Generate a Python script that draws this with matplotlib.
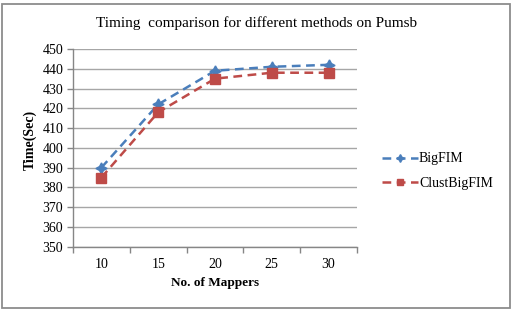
import matplotlib
matplotlib.use("Agg")
import matplotlib.pyplot as plt
from matplotlib.patches import Rectangle

categories = ["10", "15", "20", "25", "30"]
bigfim = [390, 422, 439, 441, 442]
clustbigfim = [385, 418, 435, 438, 438]
yticks = list(range(350, 451, 10))

plt.rcParams['font.family'] = ['Liberation Serif', 'DejaVu Serif']

W, H = 516, 309
fig = plt.figure(figsize=(W/100, H/100), dpi=100)
fig.patch.set_facecolor('white')

# outer frame
fig.add_artist(Rectangle((1.5/W, 1.5/H), 508.5/W, 304/H, transform=fig.transFigure,
                         fill=False, edgecolor='#8c8c8c', linewidth=1.3))

ax = fig.add_axes([73/W, 62.3/H, 284/W, 197.7/H])
x = list(range(len(categories)))
ax.plot(x, bigfim, color='#4a7ebb', linestyle=(0, (3.5, 2.2)), linewidth=1.8,
        marker=(4, 1, 0), markersize=8, markerfacecolor='#4a7ebb', markeredgecolor='#4a7ebb',
        label='BigFIM')
ax.plot(x, clustbigfim, color='#be4b48', linestyle=(0, (3.5, 2.2)), linewidth=1.8,
        marker='s', markersize=6.5, markerfacecolor='#be4b48', markeredgecolor='#be4b48',
        label='ClustBigFIM')

ax.set_xlim(-0.5, len(categories) - 0.5)
ax.set_ylim(350, 450)
ax.set_yticks(yticks)
ax.set_yticklabels([str(v) for v in yticks], fontsize=10)
ax.set_xticks(x)
ax.set_xticklabels(categories, fontsize=10)
ax.set_xticks([i - 0.5 for i in range(len(categories) + 1)], minor=True)
ax.tick_params(axis='x', which='major', length=0, pad=8)
ax.tick_params(axis='x', which='minor', length=4, color='#868686', width=1)
ax.tick_params(axis='y', length=4, color='#868686', width=1, pad=3)
ax.grid(axis='y', color='#a6a6a6', linewidth=1)
ax.set_axisbelow(True)
for s in ['top', 'right']:
    ax.spines[s].set_visible(False)
for s in ['left', 'bottom']:
    ax.spines[s].set_color('#868686')
    ax.spines[s].set_linewidth(1)

fig.text(257/W, 1 - 23/H, "Timing  comparison for different methods on Pumsb",
         ha='center', va='center', fontsize=11)
fig.text(215/W, 1 - 283/H, "No. of Mappers", ha='center', va='center',
         fontsize=9.5, fontweight='bold')
fig.text(30/W, 1 - 140/H, "Time(Sec)", ha='center', va='center', rotation=90,
         fontsize=10, fontweight='bold')

leg = fig.legend(loc='center left', bbox_to_anchor=(369/W, 1 - 171/H), frameon=False,
                 fontsize=10, handlelength=2.6, handletextpad=0.1, labelspacing=0.8,
                 markerscale=0.7)

fig.savefig("out.png", dpi=100)
